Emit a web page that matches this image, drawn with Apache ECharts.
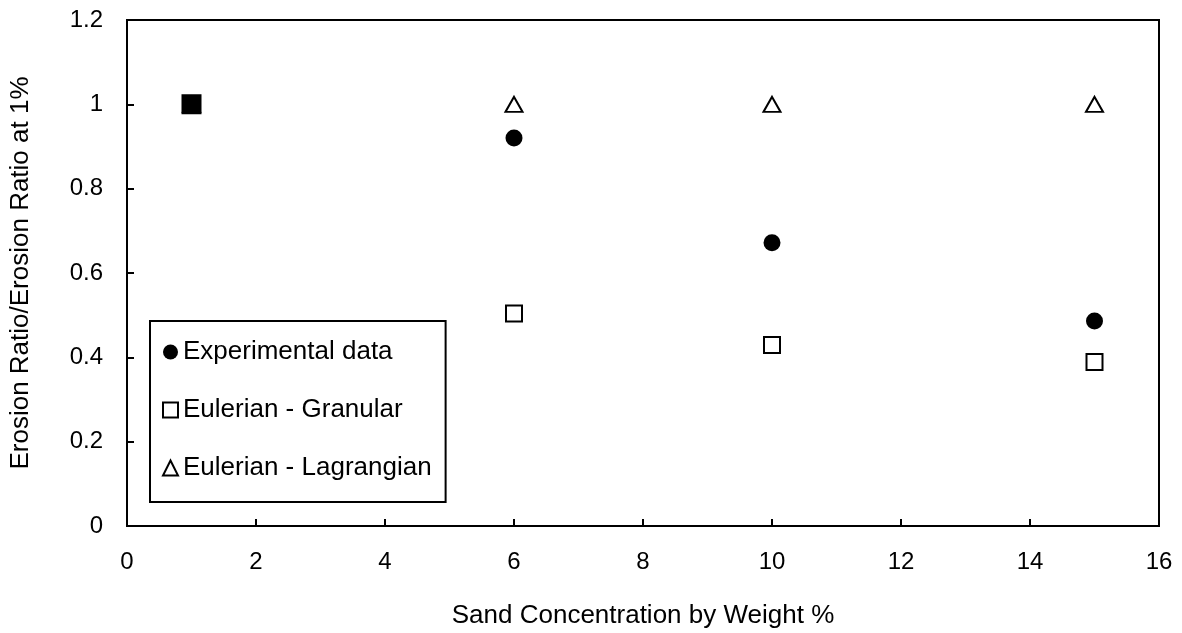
<!DOCTYPE html>
<html>
<head>
<meta charset="utf-8">
<script src="https://cdn.jsdelivr.net/npm/echarts@6/dist/echarts.min.js"></script>
<style>html,body{margin:0;padding:0;background:#fff}#c{width:1182px;height:633px}</style>
</head>
<body>
<div id="c"></div>
<script>
var xValues = [1, 6, 10, 15];
var experimental = [1, 0.92, 0.672, 0.486];
var granular = [1, 0.504, 0.429, 0.389];
var lagrangian = [1, 1, 1, 1];
var xTicks = [0, 2, 4, 6, 8, 10, 12, 14, 16];
var yTicks = [0, 0.2, 0.4, 0.6, 0.8, 1, 1.2];

var FONT = 'Liberation Sans, Arial, sans-serif';
function pairs(ys) { return xValues.map(function (x, i) { return [x, ys[i]]; }); }
var granularData = xValues.map(function (x, i) {
  var d = { value: [x, granular[i]] };
  if (granular[i] === experimental[i]) { d.itemStyle = { color: '#000' }; d.symbolSize = 18; }
  return d;
});

var chart = echarts.init(document.getElementById('c'), null, { renderer: 'canvas' });
chart.setOption({
  animation: false,
  backgroundColor: '#fff',
  textStyle: { fontFamily: FONT, color: '#000' },
  grid: { left: 127, right: 23, top: 20, bottom: 107, outerBoundsMode: 'none', containLabel: false,
    show: true, borderColor: '#000', borderWidth: 2, backgroundColor: 'transparent' },
  xAxis: {
    type: 'value', min: xTicks[0], max: xTicks[xTicks.length - 1], interval: xTicks[1] - xTicks[0],
    name: 'Sand Concentration by Weight %', nameLocation: 'middle', nameGap: 77,
    nameTextStyle: { fontSize: 26, color: '#000', fontFamily: FONT },
    axisLine: { show: true, lineStyle: { color: '#000', width: 2 } },
    axisTick: { show: true, inside: true, length: 7, lineStyle: { color: '#000', width: 2 } },
    axisLabel: { fontSize: 24, color: '#000', margin: 24, fontFamily: FONT },
    splitLine: { show: false }
  },
  yAxis: {
    type: 'value', min: yTicks[0], max: yTicks[yTicks.length - 1], interval: 0.2,
    name: 'Erosion Ratio/Erosion Ratio at 1%', nameLocation: 'middle', nameGap: 93,
    nameTextStyle: { fontSize: 26, color: '#000', fontFamily: FONT },
    axisLine: { show: true, lineStyle: { color: '#000', width: 2 } },
    axisTick: { show: true, inside: true, length: 7, lineStyle: { color: '#000', width: 2 } },
    axisLabel: { fontSize: 24, color: '#000', margin: 24, fontFamily: FONT,
      formatter: function (v) { return String(Math.round(v * 10) / 10); } },
    splitLine: { show: false }
  },
  legend: {
    orient: 'vertical', left: 150, top: 321,
    padding: [18, 14, 21, 12], itemGap: 32,
    itemWidth: 15, itemHeight: 15,
    borderColor: '#000', borderWidth: 2, backgroundColor: '#fff',
    textStyle: { fontSize: 26, lineHeight: 26, color: '#000', fontFamily: FONT },
    data: ['Experimental data', 'Eulerian - Granular', 'Eulerian - Lagrangian']
  },
  series: [
    { name: 'Eulerian - Lagrangian', type: 'scatter', symbol: 'triangle', symbolSize: [17, 15],
      itemStyle: { color: '#fff', borderColor: '#000', borderWidth: 2, opacity: 1 }, data: pairs(lagrangian), z: 2 },
    { name: 'Eulerian - Granular', type: 'scatter', symbol: 'rect', symbolSize: 16,
      itemStyle: { color: '#fff', borderColor: '#000', borderWidth: 2, opacity: 1 }, data: granularData, z: 3 },
    { name: 'Experimental data', type: 'scatter', symbol: 'circle', symbolSize: 17,
      itemStyle: { color: '#000', opacity: 1 }, data: pairs(experimental), z: 4 }
  ]
});
</script>
</body>
</html>
